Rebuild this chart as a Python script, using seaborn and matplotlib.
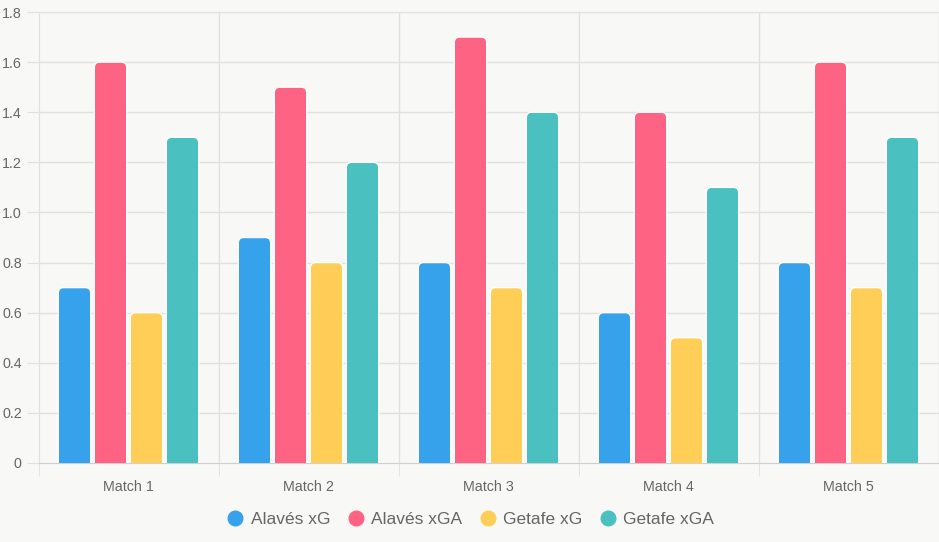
import matplotlib
matplotlib.use('Agg')
import matplotlib.pyplot as plt
from matplotlib.patches import FancyBboxPatch
from matplotlib.lines import Line2D
import numpy as np
import pandas as pd
import seaborn as sns

matches = ['Match 1', 'Match 2', 'Match 3', 'Match 4', 'Match 5']
series = ['Alavés xG', 'Alavés xGA', 'Getafe xG', 'Getafe xGA']
alaves_xg = [0.7, 0.9, 0.8, 0.6, 0.8]
alaves_xga = [1.6, 1.5, 1.7, 1.4, 1.6]
getafe_xg = [0.6, 0.8, 0.7, 0.5, 0.7]
getafe_xga = [1.3, 1.2, 1.4, 1.1, 1.3]
colors = ['#36A2EB', '#FF6384', '#FFCE56', '#4BC0C0']
y_ticks = [0, 0.2, 0.4, 0.6, 0.8, 1.0, 1.2, 1.4, 1.6, 1.8]

df = pd.DataFrame({
    'match': matches * 4,
    'series': np.repeat(series, len(matches)),
    'value': alaves_xg + alaves_xga + getafe_xg + getafe_xga,
})

bg = '#f8f8f6'
grid_c = '#e0e0de'
txt_c = '#666666'
plt.rcParams['font.family'] = ['Liberation Sans', 'DejaVu Sans']

fig = plt.figure(figsize=(9.39, 5.42), dpi=100, facecolor=bg)
ax = fig.add_axes([38.5 / 939, 79 / 542, 900 / 939, 451 / 542], facecolor=bg)

sns.barplot(data=df, x='match', y='value', hue='series', palette=colors,
            width=0.8, gap=0.1, edgecolor='white', linewidth=1,
            saturation=1, ax=ax, legend=False)

# rounded top corners like the original
r = 0.03
for p in list(ax.patches):
    x, y = p.get_x(), p.get_y()
    w, h = p.get_width(), p.get_height()
    fb = FancyBboxPatch((x, y - 0.04), w, h + 0.04,
                        boxstyle='round,pad=0,rounding_size=%f' % r,
                        mutation_aspect=0.72,
                        facecolor=p.get_facecolor(), edgecolor='white',
                        linewidth=1, zorder=3)
    p.remove()
    ax.add_patch(fb)

ax.set_xlim(-0.5, 4.5)
ax.set_ylim(0, 1.8)
ax.set_yticks(y_ticks)
ax.set_yticklabels(['0'] + ['%.1f' % v for v in y_ticks[1:]])
ax.set_xticks(range(len(matches)))
ax.set_xticklabels(matches)
ax.set_xticks(np.arange(-0.5, 5, 1), minor=True)
ax.set_xlabel('')
ax.set_ylabel('')

ax.grid(False)
ax.set_axisbelow(True)
for v in y_ticks[1:]:
    ax.axhline(v, color=grid_c, lw=1, zorder=0)
for v in np.arange(0.5, 5, 1):
    ax.axvline(v, color=grid_c, lw=1, zorder=0)

for s in ['top', 'right']:
    ax.spines[s].set_visible(False)
ax.spines['left'].set_color(grid_c)
ax.spines['bottom'].set_color('#cfcfcd')
ax.tick_params(axis='x', which='major', length=0, pad=12, labelsize=10.3, labelcolor=txt_c)
ax.tick_params(axis='x', which='minor', length=9, color=grid_c)
ax.tick_params(axis='y', length=9, color=grid_c, pad=3, labelsize=10.3, labelcolor=txt_c)

handles = [Line2D([], [], marker='o', linestyle='', markersize=10.5,
                  markerfacecolor=c, markeredgecolor=c) for c in colors]
fig.legend(handles, series, loc='center', bbox_to_anchor=(0.5, 23 / 542),
           ncol=4, frameon=False, fontsize=12.5, labelcolor=txt_c,
           handletextpad=0.3, columnspacing=0.85, handlelength=1.2)

fig.savefig('out.png', dpi=100, facecolor=bg)
